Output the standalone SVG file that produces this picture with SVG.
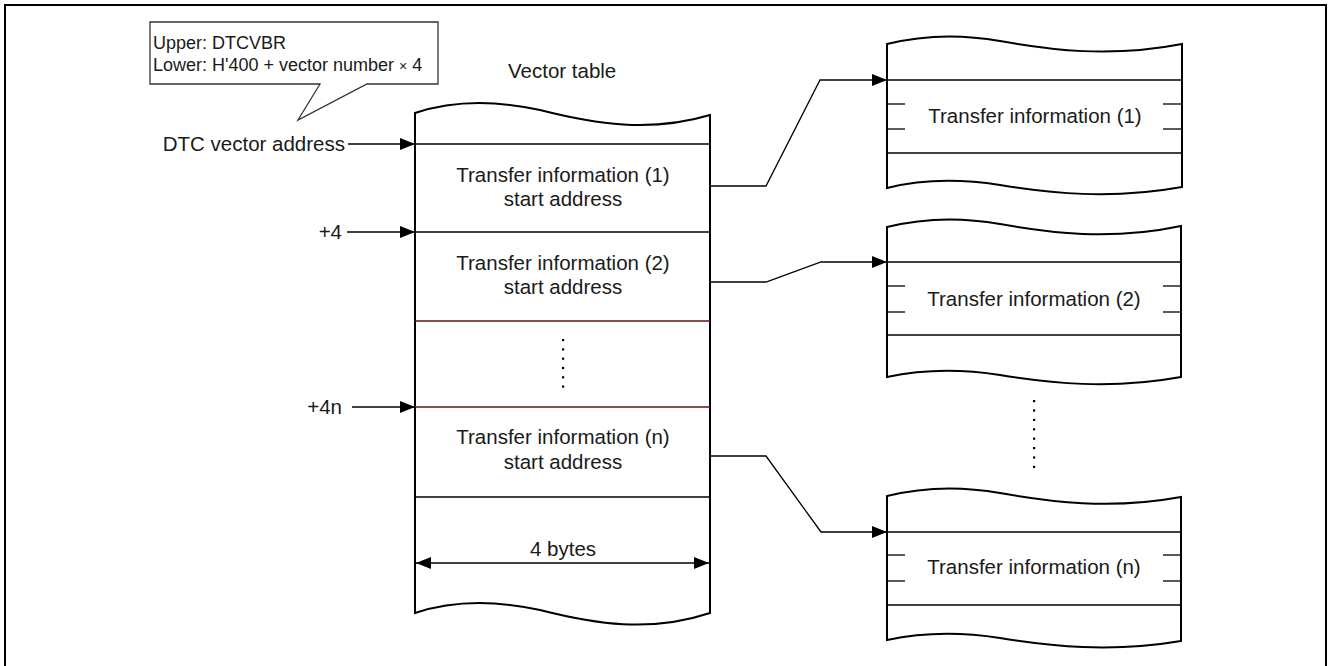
<svg xmlns="http://www.w3.org/2000/svg" width="1328" height="666" viewBox="0 0 1328 666">
<style>
text{font-family:"Liberation Sans",Arial,sans-serif;font-size:20.5px;fill:#1a1a1a}
.c{text-anchor:middle}
.e{text-anchor:end}
.sm{font-size:18px}
.out{fill:#fff;stroke:#000;stroke-width:2}
.ln{stroke:#000;stroke-width:1.3;fill:none}
.rd{stroke:#5a1414;stroke-width:1.3;fill:none}
.cn{stroke:#000;stroke-width:1.3;fill:none}
.dot{fill:#000}
</style>
<defs>
<marker id="ah" markerUnits="userSpaceOnUse" markerWidth="15" markerHeight="12" refX="15" refY="6" orient="auto-start-reverse" viewBox="0 0 15 12">
<path d="M0,0 L15,6 L0,12 z" fill="#000"/>
</marker>
</defs>
<rect x="5" y="5" width="1321" height="720" fill="none" stroke="#000" stroke-width="2"/>

<g id="callout">
<path d="M150,22 H438 V84 H367 L298,120 L320,84 H150 Z" fill="#fff" stroke="#333" stroke-width="1.3"/>
<text class="sm" x="153" y="49">Upper: DTCVBR</text>
<text class="sm" x="153" y="71">Lower: H'400 + vector number <tspan font-size="14">×</tspan> 4</text>
</g>

<g id="labels">
<text x="508" y="78">Vector table</text>
<text class="e" x="345" y="151">DTC vector address</text>
<text class="e" x="342" y="239">+4</text>
<text class="e" x="342" y="414">+4n</text>
</g>

<g id="vector-table">
<path class="out" d="M415,113 C445,103 485,98 540,110 C595,124 650,133 710,115 V613 C650,633 595,624 540,610 C485,598 445,603 415,613 Z"/>
<line class="ln" x1="415" y1="144" x2="710" y2="144"/>
<line class="ln" x1="415" y1="232" x2="710" y2="232"/>
<line class="rd" x1="415" y1="321" x2="710" y2="321"/>
<line class="rd" x1="415" y1="407" x2="710" y2="407"/>
<line class="ln" x1="415" y1="497" x2="710" y2="497"/>
<text class="c" x="563" y="182">Transfer information (1)</text>
<text class="c" x="563" y="206">start address</text>
<text class="c" x="563" y="270">Transfer information (2)</text>
<text class="c" x="563" y="294">start address</text>
<text class="c" x="563" y="444">Transfer information (n)</text>
<text class="c" x="563" y="469">start address</text>
<g class="dot">
<rect x="562" y="339" width="2.2" height="2.2"/>
<rect x="562" y="348.3" width="2.2" height="2.2"/>
<rect x="562" y="357.6" width="2.2" height="2.2"/>
<rect x="562" y="366.9" width="2.2" height="2.2"/>
<rect x="562" y="376.2" width="2.2" height="2.2"/>
<rect x="562" y="385.5" width="2.2" height="2.2"/>
</g>
<text class="c" x="563" y="556">4 bytes</text>
<line class="ln" x1="416" y1="563" x2="709" y2="563" marker-start="url(#ah)" marker-end="url(#ah)"/>
</g>

<g id="transfer-info-1">
<path class="out" d="M887,44 C915,37 955,33 1000,41 C1050,50 1110,58 1182,44 V187 C1110,200 1050,193 1000,185 C955,178 915,181 887,188 Z"/>
<line class="ln" x1="887" y1="80" x2="1182" y2="80"/>
<line class="ln" x1="887" y1="104" x2="905" y2="104"/>
<line class="ln" x1="887" y1="129" x2="905" y2="129"/>
<line class="ln" x1="1163" y1="104" x2="1182" y2="104"/>
<line class="ln" x1="1163" y1="129" x2="1182" y2="129"/>
<line class="ln" x1="887" y1="153" x2="1182" y2="153"/>
<text class="c" x="1035" y="123">Transfer information (1)</text>
</g>

<g id="transfer-info-2">
<path class="out" d="M887,227 C915,220 955,216 1000,224 C1050,233 1110,241 1181,226 V377 C1110,390 1050,383 1000,375 C955,368 915,371 887,377 Z"/>
<line class="ln" x1="887" y1="262" x2="1181" y2="262"/>
<line class="ln" x1="887" y1="286" x2="905" y2="286"/>
<line class="ln" x1="887" y1="312" x2="905" y2="312"/>
<line class="ln" x1="1163" y1="286" x2="1181" y2="286"/>
<line class="ln" x1="1163" y1="312" x2="1181" y2="312"/>
<line class="ln" x1="887" y1="335" x2="1181" y2="335"/>
<text class="c" x="1034" y="306">Transfer information (2)</text>
</g>

<g id="dots-right" class="dot">
<rect x="1033" y="400" width="2.2" height="2.2"/>
<rect x="1033" y="409.4" width="2.2" height="2.2"/>
<rect x="1033" y="418.8" width="2.2" height="2.2"/>
<rect x="1033" y="428.2" width="2.2" height="2.2"/>
<rect x="1033" y="437.6" width="2.2" height="2.2"/>
<rect x="1033" y="447" width="2.2" height="2.2"/>
<rect x="1033" y="456.4" width="2.2" height="2.2"/>
<rect x="1033" y="465.8" width="2.2" height="2.2"/>
</g>

<g id="transfer-info-n">
<path class="out" d="M887,496 C915,489 955,485 1000,493 C1050,502 1110,510 1181,497 V641 C1110,653 1050,646 1000,638 C955,631 915,634 887,640 Z"/>
<line class="ln" x1="887" y1="532" x2="1181" y2="532"/>
<line class="ln" x1="887" y1="555" x2="905" y2="555"/>
<line class="ln" x1="887" y1="581" x2="905" y2="581"/>
<line class="ln" x1="1163" y1="555" x2="1181" y2="555"/>
<line class="ln" x1="1163" y1="581" x2="1181" y2="581"/>
<line class="ln" x1="887" y1="605" x2="1181" y2="605"/>
<text class="c" x="1034" y="574">Transfer information (n)</text>
</g>

<g id="connectors">
<line class="cn" x1="348" y1="144" x2="415" y2="144" marker-end="url(#ah)"/>
<line class="cn" x1="347" y1="232" x2="415" y2="232" marker-end="url(#ah)"/>
<line class="cn" x1="352" y1="407" x2="415" y2="407" marker-end="url(#ah)"/>
<polyline class="cn" points="710,186 766,186 820,80 887,80" marker-end="url(#ah)"/>
<polyline class="cn" points="710,282 766,282 821,262 887,262" marker-end="url(#ah)"/>
<polyline class="cn" points="710,456 766,456 821,532 887,532" marker-end="url(#ah)"/>
</g>
</svg>
